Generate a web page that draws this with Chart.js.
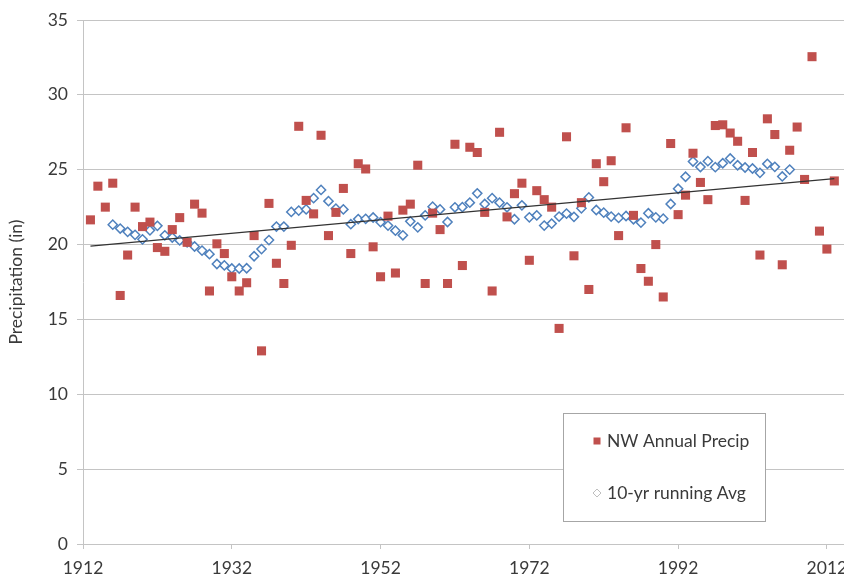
<!DOCTYPE html>
<html>
<head>
<meta charset="utf-8">
<title>NW Annual Precipitation</title>
<script src="https://cdn.jsdelivr.net/npm/chart.js"></script>
<style>
  html, body { margin: 0; padding: 0; background: #fff; }
  #wrap { width: 844px; height: 575px; }
</style>
</head>
<body>
<div id="wrap"><canvas id="precipChart" width="844" height="575"></canvas></div>
<script>
// annual totals, one per year starting at firstYear
const firstYear = 1913;
const precip = [
  21.65, 23.9, 22.5, 24.1, 16.6, 19.3, 22.5, 21.2, 21.5, 19.8,
  19.55, 21.0, 21.8, 20.15, 22.7, 22.1, 16.9, 20.05, 19.4, 17.85,
  16.9, 17.45, 20.6, 12.9, 22.75, 18.75, 17.4, 19.95, 27.9, 22.95,
  22.05, 27.3, 20.6, 22.15, 23.75, 19.4, 25.4, 25.05, 19.85, 17.85,
  21.9, 18.1, 22.3, 22.7, 25.3, 17.4, 22.1, 21.0, 17.4, 26.7,
  18.6, 26.5, 26.15, 22.15, 16.9, 27.5, 21.85, 23.4, 24.1, 18.95,
  23.6, 23.0, 22.5, 14.4, 27.2, 19.25, 22.8, 17.0, 25.4, 24.2,
  25.6, 20.6, 27.8, 21.95, 18.4, 17.55, 20.0, 16.5, 26.75, 22.0,
  23.3, 26.1, 24.15, 23.0, 27.95, 28.0, 27.45, 26.9, 22.95, 26.15,
  19.3, 28.4, 27.35, 18.65, 26.3, 27.85, 24.35, 32.55, 20.9, 19.7,
  24.25
];

// 10-yr running average, one per year starting at avgFirstYear
const avgFirstYear = 1916;
const runningAvg = [
  21.33, 21.07, 20.85, 20.65, 20.35, 20.95, 21.25, 20.62, 20.47, 20.28,
  20.15, 19.87, 19.6, 19.36, 18.7, 18.61, 18.4, 18.4, 18.42, 19.22,
  19.7, 20.3, 21.2, 21.2, 22.18, 22.27, 22.35, 23.1, 23.65, 22.9,
  22.4, 22.35, 21.36, 21.7, 21.72, 21.81, 21.5, 21.27, 20.93, 20.62,
  21.55, 21.15, 21.95, 22.53, 22.35, 21.51, 22.49, 22.5, 22.8, 23.42,
  22.71, 23.1, 22.8, 22.49, 21.69, 22.62, 21.82, 21.95, 21.27, 21.4,
  21.87, 22.07, 21.85, 22.42, 23.15, 22.31, 22.13, 21.87, 21.78, 21.91,
  21.69, 21.47, 22.09, 21.82, 21.73, 22.71, 23.73, 24.53, 25.55, 25.18,
  25.57, 25.17, 25.43, 25.75, 25.3, 25.15, 25.08, 24.79, 25.39, 25.19,
  24.55, 25.01
];

// linear trend end points [year, inches]
const trendYears = [1913, 2013];
const trendValues = [19.9, 24.4];

const xTicks = [1912, 1932, 1952, 1972, 1992, 2012];
const yTicks = [0, 5, 10, 15, 20, 25, 30, 35];
const seriesNames = ['NW Annual Precip', '10-yr running Avg'];

const RED = '#c0504d';
const BLUE = '#4f81bd';
const TEXT = '#3a3a3a';
const GRID = '#c4c4c4';
const FONT = 'Lato, "Open Sans", sans-serif';
const FONT_SIZE = 17.5;

// legend box inside the plot, bottom right
const boxLegend = {
  id: 'boxLegend',
  afterDraw(chart) {
    const ctx = chart.ctx;
    const area = chart.chartArea;
    const w = 202, h = 108;
    const x0 = area.right - 281, y0 = area.bottom - 131;
    ctx.save();
    ctx.fillStyle = '#fff';
    ctx.fillRect(x0, y0, w, h);
    ctx.strokeStyle = '#a6a6a6';
    ctx.lineWidth = 1;
    ctx.strokeRect(x0 + 0.5, y0 + 0.5, w, h);

    const mx = x0 + 34;
    const r1 = y0 + 28, r2 = y0 + 80;
    ctx.fillStyle = RED;
    ctx.fillRect(mx - 3.5, r1 - 3.5, 7, 7);

    ctx.strokeStyle = '#bfbfbf';
    ctx.lineWidth = 1;
    ctx.beginPath();
    ctx.moveTo(mx, r2 - 4);
    ctx.lineTo(mx + 4, r2);
    ctx.lineTo(mx, r2 + 4);
    ctx.lineTo(mx - 4, r2);
    ctx.closePath();
    ctx.stroke();

    ctx.fillStyle = TEXT;
    ctx.font = FONT_SIZE + 'px ' + FONT;
    ctx.textBaseline = 'middle';
    ctx.textAlign = 'left';
    ctx.fillText(seriesNames[0], mx + 10, r1);
    ctx.fillText(seriesNames[1], mx + 10, r2);
    ctx.restore();
  }
};

const ctx = document.getElementById('precipChart').getContext('2d');
const precipChart = new Chart(ctx, {
  type: 'scatter',
  data: {
    datasets: [
      {
        label: seriesNames[0],
        data: precip.map((v, i) => ({ x: firstYear + i, y: v })),
        pointStyle: 'rect',
        pointRadius: 6.4,
        backgroundColor: RED,
        borderColor: RED,
        borderWidth: 0
      },
      {
        label: seriesNames[1],
        data: runningAvg.map((v, i) => ({ x: avgFirstYear + i, y: v })),
        pointStyle: 'rectRot',
        pointRadius: 4.6,
        backgroundColor: '#fff',
        borderColor: BLUE,
        borderWidth: 1.5
      },
      {
        label: 'Trend',
        type: 'line',
        data: trendYears.map((yr, i) => ({ x: yr, y: trendValues[i] })),
        borderColor: '#333',
        borderWidth: 1.2,
        pointRadius: 0,
        fill: false,
        order: -1
      }
    ]
  },
  options: {
    responsive: false,
    animation: false,
    layout: {
      autoPadding: false,
      padding: { top: 20, right: 0, left: 0, bottom: 0 }
    },
    plugins: {
      legend: { display: false },
      tooltip: { enabled: false }
    },
    scales: {
      x: {
        type: 'linear',
        min: 1912,
        max: 2014.3,
        afterBuildTicks: scale => { scale.ticks = xTicks.map(v => ({ value: v })); },
        afterFit: scale => {
          scale.height = 31;
          scale.paddingRight = 0;
        },
        grid: { drawOnChartArea: false, drawTicks: true, tickLength: 5, color: GRID },
        border: { display: true, color: GRID },
        ticks: {
          color: TEXT,
          font: { family: FONT, size: FONT_SIZE },
          padding: 9,
          maxRotation: 0,
          callback: v => String(v)
        }
      },
      y: {
        min: 0,
        max: 35,
        afterBuildTicks: scale => { scale.ticks = yTicks.map(v => ({ value: v })); },
        afterFit: scale => { scale.width = 83; },
        grid: { color: GRID, tickLength: 6 },
        border: { display: true, color: GRID },
        ticks: {
          color: TEXT,
          font: { family: FONT, size: FONT_SIZE },
          padding: 9
        },
        title: {
          display: true,
          text: 'Precipitation (in)',
          color: TEXT,
          font: { family: FONT, size: FONT_SIZE },
          padding: { top: 6, bottom: 0 }
        }
      }
    }
  },
  plugins: [boxLegend]
});
</script>
</body>
</html>
